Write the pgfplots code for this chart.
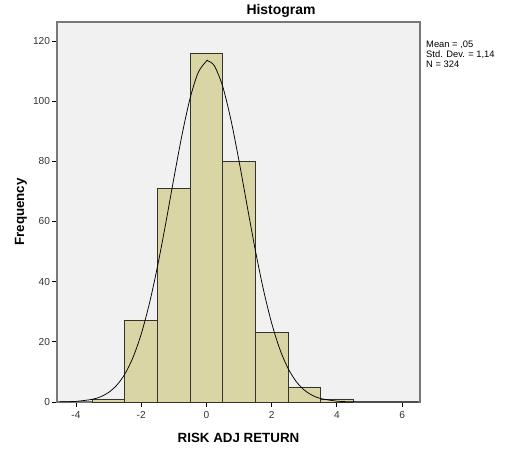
\documentclass[border=0pt]{standalone}
\usepackage{pgfplots}
\pgfplotsset{compat=1.18}
\usepackage{fontspec}
\setmainfont{Liberation Sans}
\definecolor{barfill}{RGB}{217,213,165}
\definecolor{bgfill}{RGB}{241,241,241}
\definecolor{framecol}{RGB}{120,120,120}
\begin{document}
\begin{tikzpicture}[x=1bp,y=1bp]
\useasboundingbox (0,0) rectangle (506,452);
\begin{axis}[
  at={(57bp,50bp)}, anchor=south west,
  scale only axis, width=363bp, height=380bp,
  xmin=-4.58, xmax=6.55, ymin=0, ymax=126.3,
  axis background/.style={fill=bgfill},
  axis line style={framecol, line width=1.3pt},
  xtick={-4,-2,0,2,4,6}, ytick={0,20,40,60,80,100,120},
  xticklabels={-4,-2,0,2,4,6},
  tick align=outside, tick pos=left,
  major tick length=5bp,
  tick style={black, line width=0.8pt},
  /pgf/number format/assume math mode=true,
  ticklabel style={font=\fontsize{10.2}{11}\selectfont, text=black!80},
  yticklabel style={xshift=1.5bp},
  xticklabel style={yshift=-1bp},
  xlabel={\textbf{RISK ADJ RETURN}},
  ylabel={\textbf{Frequency}},
  label style={font=\fontsize{13.4}{15}\selectfont},
  xlabel style={at={(axis description cs:0.5,-0.1053)}, anchor=base},
  ylabel style={at={(axis description cs:-0.0909,0.5)}, anchor=base},
  clip=false,
]
\addplot[ybar interval, fill=barfill, draw=black!80, line width=0.7pt] coordinates {
(-3.5,1) (-2.5,27) (-1.5,71) (-0.5,116) (0.5,80) (1.5,23) (2.5,5) (3.5,1) (4.5,1)
};
\addplot[smooth, black, line width=0.75pt] coordinates {
(-4.5,0.039) (-4,0.206) (-3.5,0.889) (-3.25,1.717) (-3,3.163) (-2.75,5.556)
(-2.5,9.29) (-2.25,14.81) (-2,22.51) (-1.75,32.60) (-1.5,44.99) (-1.25,59.17)
(-1,74.18) (-0.75,88.63) (-0.5,100.92) (-0.25,109.53) (0,113.27) (0.05,113.38)
(0.25,111.65) (0.5,104.88) (0.75,93.90) (1,80.13) (1.25,65.16) (1.5,50.49)
(1.75,37.29) (2,26.26) (2.25,17.61) (2.5,11.26) (2.75,6.862) (3,3.984)
(3.25,2.205) (3.5,1.164) (4,0.280) (4.5,0.056) (5,0.008) (5.5,0.001) (6,0) (6.5,0)
};
\end{axis}
\node[anchor=base, font=\fontsize{14}{16}\selectfont\bfseries] at (281,437) {Histogram};
\node[anchor=north west, align=left, font=\fontsize{9.4}{10}\selectfont, inner sep=0pt] at (426,411) {Mean = ,05\\Std. Dev. = 1,14\\N = 324};
\end{tikzpicture}
\end{document}
